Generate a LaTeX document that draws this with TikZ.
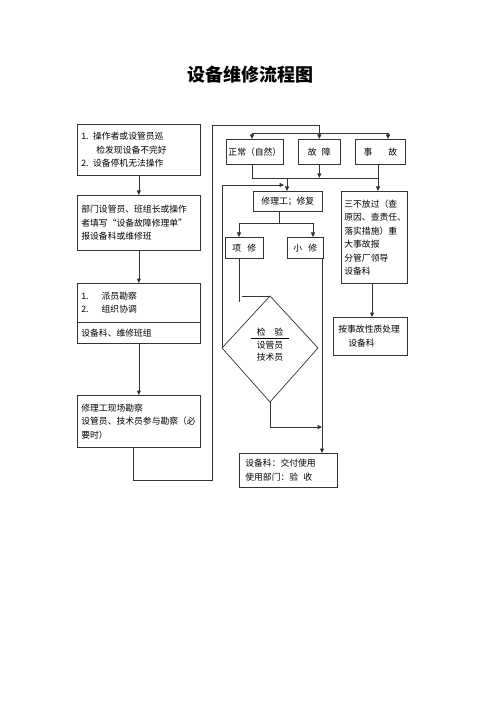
\documentclass[tikz,border=0pt]{standalone}
\usepackage{fontspec}
\newfontfamily\cjk{Noto Sans CJK SC}
\usetikzlibrary{arrows.meta}
\newcommand{\tf}{\cjk\fontsize{8.8}{13.5}\selectfont}
\tikzset{
  ln/.style={line width=0.7pt, draw=black!80},
  arr/.style={ln, -{Triangle[length=4.5pt,width=4pt]}},
  bx/.style={draw=black!80, line width=0.7pt, anchor=north west, inner ysep=0pt, font=\tf},
  lbox/.style={bx, align=left, inner xsep=4pt},
  cbox/.style={bx, align=center, inner xsep=0pt}
}
\begin{document}
\begin{tikzpicture}[x=1pt,y=-1pt]
\fill[white] (0,0) rectangle (500,708);
\useasboundingbox (0,0) rectangle (500,708);

\node[font=\cjk\bfseries\fontsize{18}{20}\selectfont] (title) at (250,75) {设备维修流程图};

% left column
\node[lbox, text width=115pt, minimum height=51pt] (A) at (77,124)
  {1. 操作者或设管员巡\\\hspace*{15pt}检发现设备不完好\\2. 设备停机无法操作};
\node[lbox, text width=115pt, minimum height=55pt] (B) at (77,195)
  {部门设管员、班组长或操作\\者填写“设备故障修理单”\\报设备科或维修班};
\node[lbox, text width=115pt, minimum height=39pt] (C1) at (77,283)
  {1.\hspace{13pt}派员勘察\\2.\hspace{13pt}组织协调\\[-3pt]};
\node[lbox, text width=115pt, minimum height=21pt] (C2) at (77,322)
  {设备科、维修班组};
\node[lbox, text width=115pt, minimum height=52pt] (D) at (77,395)
  {修理工现场勘察\\设管员、技术员参与勘察（必\\要时）};

% top row
\node[cbox, minimum width=57pt, minimum height=25pt] (zc) at (226,139) {正常（自然）};
\node[cbox, minimum width=42pt, minimum height=25pt] (gz) at (298,139) {故\hspace{0.6em}障};
\node[cbox, minimum width=50pt, minimum height=25pt] (sg) at (355,139) {事\hspace{1.8em}故};

% middle
\node[cbox, minimum width=69pt, minimum height=20pt] (xl) at (253,191) {修理工；修复};
\node[cbox, minimum width=38pt, minimum height=21pt] (xx) at (225,237) {项\hspace{0.7em}修};
\node[cbox, minimum width=36pt, minimum height=21pt] (xs) at (287,237) {小\hspace{0.7em}修};
\node[lbox, inner xsep=3pt, text width=60pt, minimum height=92pt] (sb) at (341,191)
  {三不放过（查\\原因、查责任、\\落实措施）重\\大事故报\\分管厂领导\\设备科};
\node[lbox, inner xsep=5pt, text width=64pt, minimum height=38pt] (as) at (333,317)
  {按事故性质处理\\\hspace*{10pt}设备科};
\node[lbox, inner xsep=6pt, text width=86pt, minimum height=34pt] (jf) at (239,453)
  {设备科：交付使用\\使用部门：验\hspace{0.6em}收};

% diamond
\coordinate (dT) at (270,296);
\coordinate (dR) at (318,348);
\coordinate (dB) at (270,402);
\coordinate (dL) at (222,348);
\draw[ln] (dT) -- (dR) -- (dB) -- (dL) -- cycle;
\node[font=\cjk\fontsize{8.8}{12.5}\selectfont, align=center, inner sep=0pt] (jy) at (270,345)
  {\underline{\makebox[38pt]{检\hspace{1em}验}}\\设管员\\技术员};

% left column arrows
\draw[arr] (A.south) -- (B.north);
\draw[arr] (B.south) -- (C1.north);
\draw[arr] (C2.south) -- (D.north);

% loop from D to top row
\coordinate (L1) at (212,480);
\coordinate (L2) at (212,125);
\draw[arr] ([xshift=-5.5pt]D.south) |- (L1) -- (L2) -| (gz.north);
\coordinate (t1) at (252,133);
\coordinate (t2) at (388,133);
\draw[ln] (t1) -- (t2);
\draw[arr] (t1) -- (t1 |- zc.north);
\draw[arr] (t2) -- (t2 |- sg.north);

% collecting line below top row
\coordinate (b1) at (252,178);
\coordinate (b2) at (378,178);
\coordinate (b3) at (287,178);
\draw[ln] (b1 |- zc.south) -- (b1) -- (b2);
\draw[arr] (gz.south) -- (gz.south |- b1);
\draw[arr] (b2 |- sg.south) -- (b2 |- sb.north);
\draw[arr] (b3) -- (b3 |- xl.north);

% feedback from diamond
\coordinate (fb) at (284,185);
\draw[arr] (dL) |- (fb);

% branching from xl
\coordinate (j) at (279,223);
\coordinate (j1) at (239,223);
\coordinate (j2) at (313,223);
\draw[ln] (xl.south -| j) -- (j);
\draw[arr] (j) -- (j1) -- (j1 |- xx.north);
\draw[arr] (j) -- (j2) -- (j2 |- xs.north);

% xiang xiu to diamond
\coordinate (q1) at (239,302);
\coordinate (q2) at (242,296);
\draw[ln] (xx.south -| q1) -- (q1);
\draw[ln] (q2) -- (dT);

% xiao xiu down to jf
\coordinate (r1) at (322,427);
\draw[arr] (xs.south -| r1) -- (r1 |- jf.north);
\draw[arr] (dB) |- (r1);

% sb to as
\coordinate (s1) at (372,300);
\draw[arr] (sb.south -| s1) -- (s1 |- as.north);
\end{tikzpicture}
\end{document}
